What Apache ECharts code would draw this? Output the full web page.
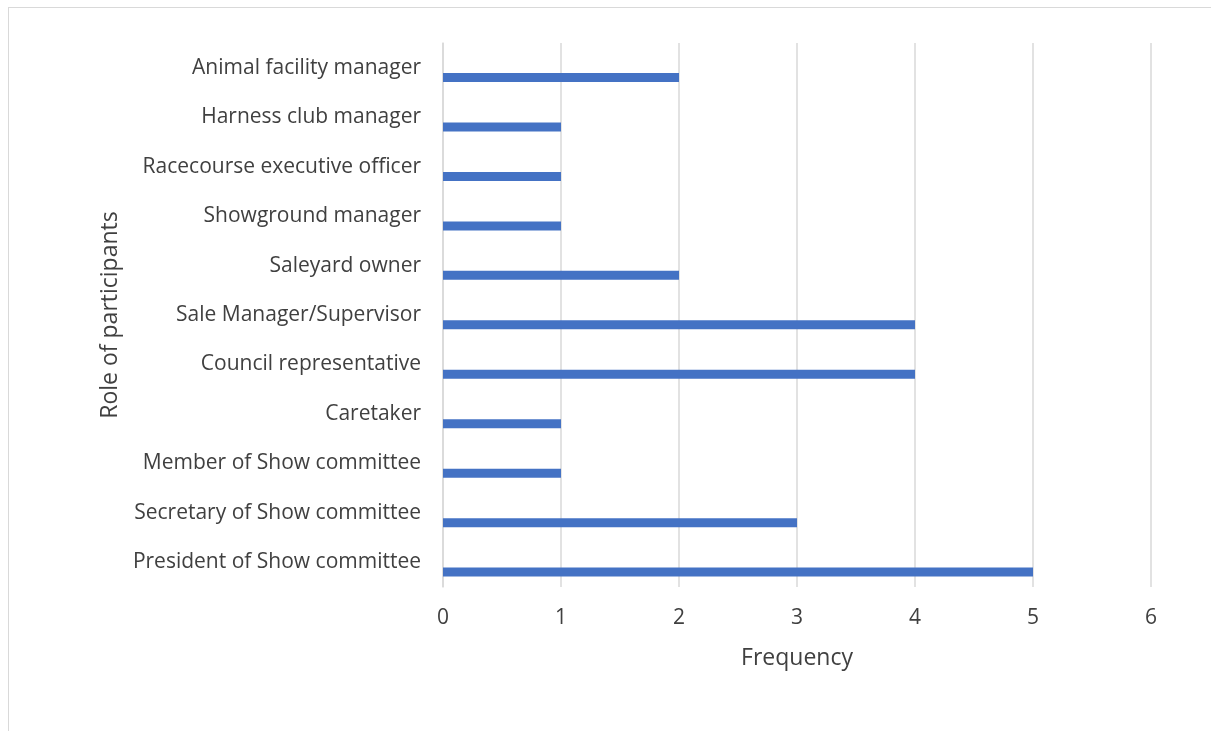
<!DOCTYPE html>
<html>
<head>
<meta charset="utf-8">
<script src="https://cdn.jsdelivr.net/npm/echarts@6/dist/echarts.min.js"></script>
<style>
  html, body { margin: 0; padding: 0; background: #fff; }
  #frame { position: absolute; left: 8px; top: 7px; width: 1210px; height: 740px; border: 1px solid #d9d9d9; box-sizing: border-box; }
  #chart { position: absolute; left: 0; top: 0; width: 1211px; height: 731px; }
</style>
</head>
<body>
<div id="frame"></div>
<div id="chart"></div>
<script>
const categories = [
  'President of Show committee',
  'Secretary of Show committee',
  'Member of Show committee',
  'Caretaker',
  'Council representative',
  'Sale Manager/Supervisor',
  'Saleyard owner',
  'Showground manager',
  'Racecourse executive officer',
  'Harness club manager',
  'Animal facility manager'
];
const frequency = [5, 3, 1, 1, 4, 4, 2, 1, 1, 1, 2];
const xTicks = { min: 0, max: 6, interval: 1 };

const font = '"Open Sans", Lato, sans-serif';
const textColor = '#404040';
const chart = echarts.init(document.getElementById('chart'), null, { renderer: 'canvas' });
chart.setOption({
  animation: false,
  grid: { left: 443, right: 60, top: 43, bottom: 144, containLabel: false },
  xAxis: {
    type: 'value',
    min: xTicks.min, max: xTicks.max, interval: xTicks.interval,
    name: 'Frequency',
    nameLocation: 'middle',
    nameGap: 60,
    nameTextStyle: { fontFamily: font, fontSize: 23, color: textColor },
    axisLine: { show: false },
    axisTick: { show: false },
    axisLabel: { fontFamily: font, fontSize: 21, color: textColor, margin: 21 },
    splitLine: { show: true, lineStyle: { color: '#d9d9d9', width: 1.5 } }
  },
  yAxis: {
    type: 'category',
    data: categories,
    name: 'Role of participants',
    nameLocation: 'middle',
    nameGap: 321,
    nameTextStyle: { fontFamily: font, fontSize: 23, color: textColor },
    axisLine: { show: true, lineStyle: { color: '#d9d9d9', width: 1.5 } },
    axisTick: { show: false },
    axisLabel: { fontFamily: font, fontSize: 21, color: textColor, margin: 22, padding: [3, 0, 0, 0] },
    splitLine: { show: false }
  },
  series: [
    { name: 'Blank', type: 'bar', data: [], barWidth: 9, barGap: '118%', itemStyle: { color: '#ED7D31' } },
    { name: 'Frequency', type: 'bar', data: frequency, barWidth: 9, barGap: '118%', itemStyle: { color: '#4472C4' } }
  ]
});
</script>
</body>
</html>
